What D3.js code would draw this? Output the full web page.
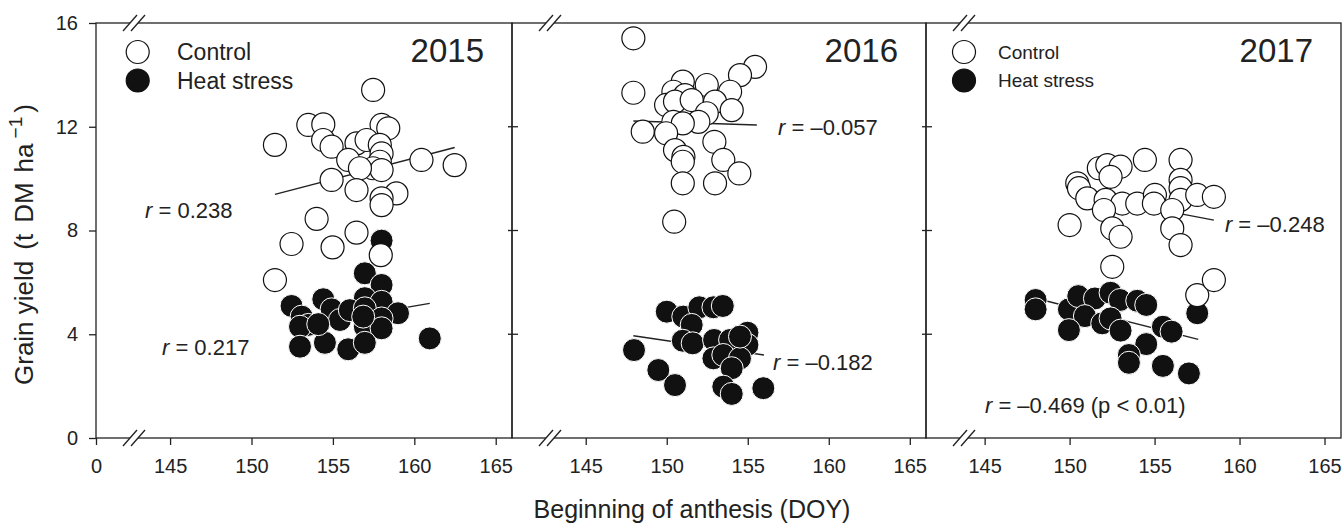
<!DOCTYPE html>
<html>
<head>
<meta charset="utf-8">
<script src="https://cdn.jsdelivr.net/npm/d3@7/dist/d3.min.js"></script>
<style>
  body { margin: 0; background: #fff; }
  svg { display: block; font-family: Arial, "Liberation Sans", Helvetica, sans-serif; }
</style>
</head>
<body>
<script>
// ---- data ----
const years = ["2015", "2016", "2017"];
const xDomains = [[140.45, 166], [140.45, 166], [141.55, 165.97]];
const xTicks = [145, 150, 155, 160, 165];
const yTicks = [0, 4, 8, 12, 16];
const seriesNames = ["Control", "Heat stress"];

// [DOY, grain yield]
const control2015 = [[157.47,13.42],[153.49,12.07],[154.41,12.09],[157.99,12.07],[158.4,11.94],[151.44,11.3],[154.4,11.49],[154.92,11.23],[156.45,11.36],[157.07,11.49],[157.88,11.3],[157.99,10.97],[155.94,10.72],[157.88,10.65],[160.44,10.72],[162.48,10.52],[157.47,10.4],[157.99,10.33],[156.66,10.4],[154.92,9.95],[156.45,9.56],[158.9,9.43],[157.99,9.24],[157.99,8.98],[154.0,8.45],[156.45,7.92],[152.46,7.48],[154.98,7.35],[157.94,7.05],[151.44,6.09]];
const heat2015 = [[157.99,7.61],[156.96,6.35],[157.99,5.9],[152.46,5.09],[154.41,5.35],[156.96,5.39],[157.99,5.25],[159.0,4.81],[153.08,4.68],[153.49,4.36],[154.92,4.96],[155.43,4.55],[156.04,4.93],[156.96,5.0],[157.99,4.61],[156.96,4.29],[157.99,4.23],[152.98,4.29],[152.98,3.52],[154.51,3.67],[155.94,3.42],[156.96,3.67],[160.95,3.84],[154.1,4.39],[156.86,4.68]];
const control2016 = [[147.94,15.41],[147.94,13.31],[150.99,13.74],[152.47,13.61],[155.45,14.31],[154.52,13.99],[153.91,13.35],[150.41,13.35],[151.13,13.22],[149.96,12.84],[150.51,12.97],[151.54,13.03],[152.98,12.97],[154.01,12.64],[152.47,12.52],[151.95,12.19],[150.41,12.19],[150.99,12.13],[148.52,11.81],[149.96,11.75],[152.94,11.42],[150.51,11.1],[151.03,10.84],[150.99,10.65],[153.49,10.72],[154.48,10.2],[150.99,9.82],[152.98,9.82],[150.46,8.34]];
const heat2016 = [[150.0,4.87],[151.02,4.68],[152.01,5.04],[152.88,5.04],[153.46,5.09],[151.54,4.36],[150.99,3.75],[151.6,3.65],[147.98,3.39],[152.92,3.78],[153.91,3.78],[154.98,4.06],[154.98,3.59],[152.88,3.07],[153.49,3.2],[154.52,3.07],[154.01,2.69],[149.48,2.62],[150.51,2.04],[153.49,1.98],[154.01,1.7],[155.96,1.92],[154.52,3.91]];
const control2017 = [[151.72,10.4],[152.22,10.52],[153.0,10.46],[154.43,10.72],[156.53,10.72],[152.41,10.07],[150.45,9.82],[150.55,9.63],[156.53,9.95],[156.53,9.63],[151.04,9.24],[152.12,9.18],[153.1,9.04],[153.98,9.04],[155.02,9.37],[154.96,9.04],[156.53,9.18],[157.51,9.37],[158.49,9.3],[152.02,8.79],[156.04,8.79],[150.0,8.21],[152.51,8.08],[153.0,7.76],[156.04,8.08],[156.53,7.44],[152.51,6.6],[157.51,5.51],[158.49,6.09]];
const heat2017 = [[148.0,5.32],[148.0,4.96],[149.96,4.96],[150.51,5.47],[151.49,5.38],[152.41,5.6],[152.96,5.32],[153.98,5.29],[154.51,5.13],[150.9,4.7],[151.92,4.42],[152.41,4.61],[153.0,4.14],[149.96,4.16],[155.49,4.29],[156.0,4.1],[157.51,4.81],[154.51,3.62],[153.49,3.2],[153.49,2.9],[155.49,2.78],[157.02,2.49]];

// regression line end points [[DOY, yield], [DOY, yield]]
const fitControl = [[[151.44, 9.39], [162.48, 11.2]], [[147.94, 12.22], [155.56, 12.07]], [[150.0, 9.46], [158.49, 8.4]]];
const fitHeat = [[[152.46, 4.28], [160.95, 5.19]], [[147.94, 3.94], [156.0, 3.2]], [[148.0, 5.39], [157.57, 3.8]]];

const rControl = ["0.238", "\u20130.057", "\u20130.248"];
const rHeat = ["0.217", "\u20130.182", "\u20130.469 (p < 0.01)"];

// ---- layout ----
const W = 1344, H = 528;
const panelX = [[96, 512], [512, 926], [926, 1341]];
const yTop = 23, yBottom = 438;
const ink = "#222";
const rPt = 11.5;

// where the r labels sit (data coordinates of text start / baseline)
const rControlPos = [[143.46, 8.48], [156.87, 11.68], [159.14, 7.94]];
const rHeatPos = [[144.5, 3.2], [156.56, 2.62], [145.02, 0.96]];

const controls = [control2015, control2016, control2017];
const heats = [heat2015, heat2016, heat2017];

const svg = d3.select("body").append("svg")
  .attr("width", W)
  .attr("height", H);

const y = d3.scaleLinear().domain([0, 16]).range([yBottom, yTop]);

function breakMark(g, cx, cy) {
  g.append("polygon")
    .attr("points", [[cx - 11, cy + 8], [cx + 3, cy - 8], [cx + 11, cy - 8], [cx - 3, cy + 8]].map(p => p.join(",")).join(" "))
    .attr("fill", "#fff");
  [-4, 4].forEach(o => {
    g.append("line")
      .attr("x1", cx + o - 7).attr("y1", cy + 8)
      .attr("x2", cx + o + 7).attr("y2", cy - 8)
      .attr("stroke", ink).attr("stroke-width", 1.3);
  });
}

years.forEach((yr, i) => {
  const [x0, x1] = panelX[i];
  const x = d3.scaleLinear().domain(xDomains[i]).range([x0, x1]);
  const g = svg.append("g");

  // regression lines
  [fitHeat[i], fitControl[i]].forEach(seg => {
    g.append("line")
      .attr("x1", x(seg[0][0])).attr("y1", y(seg[0][1]))
      .attr("x2", x(seg[1][0])).attr("y2", y(seg[1][1]))
      .attr("stroke", ink).attr("stroke-width", 1.4);
  });

  g.append("g").selectAll("circle").data(heats[i]).join("circle")
    .attr("cx", d => x(d[0])).attr("cy", d => y(d[1]))
    .attr("r", rPt)
    .attr("fill", "#111").attr("stroke", "#fff").attr("stroke-width", 1);

  g.append("g").selectAll("circle").data(controls[i]).join("circle")
    .attr("cx", d => x(d[0])).attr("cy", d => y(d[1]))
    .attr("r", rPt)
    .attr("fill", "#fff").attr("stroke", "#111").attr("stroke-width", 1.2);

  // frame
  g.append("rect")
    .attr("x", x0).attr("y", yTop)
    .attr("width", x1 - x0).attr("height", yBottom - yTop)
    .attr("fill", "none").attr("stroke", ink).attr("stroke-width", 1.3);

  // x axis
  const vals = i === 0 ? [xDomains[i][0]].concat(xTicks) : xTicks;
  const xAxis = d3.axisBottom(x)
    .tickValues(vals)
    .tickSize(7)
    .tickPadding(14)
    .tickFormat(d => d === xDomains[i][0] ? "0" : d);
  g.append("g")
    .attr("transform", `translate(0,${yBottom})`)
    .call(xAxis)
    .call(a => a.select(".domain").remove())
    .call(a => a.selectAll("line").attr("stroke", ink).attr("stroke-width", 1.3))
    .call(a => a.selectAll("text").attr("font-size", 20).attr("fill", "#222").attr("font-family", null));

  // y ticks
  if (i === 0) {
    g.append("g")
      .attr("transform", `translate(${x0},0)`)
      .call(d3.axisLeft(y).tickValues(yTicks).tickSize(7).tickPadding(11))
      .call(a => a.select(".domain").remove())
      .call(a => a.selectAll("line").attr("stroke", ink).attr("stroke-width", 1.3))
      .call(a => a.selectAll("text").attr("font-size", 20).attr("fill", "#222").attr("font-family", null));
  } else {
    g.append("g").selectAll("line").data(yTicks.slice(1, -1)).join("line")
      .attr("x1", x0 - 4).attr("x2", x0 + 6)
      .attr("y1", d => y(d)).attr("y2", d => y(d))
      .attr("stroke", ink).attr("stroke-width", 1.3);
  }

  // broken-axis marks
  breakMark(g, x0 + 38, yTop);
  breakMark(g, x0 + 38, yBottom);

  // year
  g.append("text")
    .attr("x", x1 - 28).attr("y", 62)
    .attr("text-anchor", "end")
    .attr("font-size", 33).attr("fill", "#222")
    .text(yr);

  // r labels
  [[rControl[i], rControlPos[i]], [rHeat[i], rHeatPos[i]]].forEach(([txt, pos]) => {
    const t = g.append("text")
      .attr("x", x(pos[0])).attr("y", y(pos[1]))
      .attr("font-size", 22).attr("fill", "#222");
    t.append("tspan").attr("font-style", "italic").text("r");
    t.append("tspan").text(" = " + txt);
  });
});

// legends (panels 2015 and 2017)
[[0, 137.7, 177, 23], [2, 964, 998, 19]].forEach(([p, cx, tx, fs]) => {
  const lg = svg.append("g");
  seriesNames.forEach((name, k) => {
    const cy = 52 + k * 28.5;
    lg.append("circle")
      .attr("cx", cx).attr("cy", cy).attr("r", rPt)
      .attr("fill", k === 0 ? "#fff" : "#111")
      .attr("stroke", "#111").attr("stroke-width", 1.2);
    lg.append("text")
      .attr("x", tx).attr("y", cy + fs * 0.36)
      .attr("font-size", fs).attr("fill", "#222")
      .text(name);
  });
});

// axis titles
svg.append("text")
  .attr("x", 692).attr("y", 518)
  .attr("text-anchor", "middle")
  .attr("font-size", 25).attr("fill", "#222")
  .text("Beginning of anthesis (DOY)");

const yt = svg.append("text")
  .attr("transform", "translate(33,385) rotate(-90)")
  .attr("x", 0)
  .attr("font-size", 26).attr("fill", "#222");
yt.append("tspan").text("Grain yield");
yt.append("tspan").attr("dx", 11).text("(t");
yt.append("tspan").attr("dx", 11).text("DM");
yt.append("tspan").attr("dx", 10).text("ha");
yt.append("tspan").attr("font-size", 19).attr("dx", 5).attr("dy", -11).text("\u22121");
yt.append("tspan").attr("dx", 4).attr("dy", 11).text(")");
</script>
</body>
</html>
